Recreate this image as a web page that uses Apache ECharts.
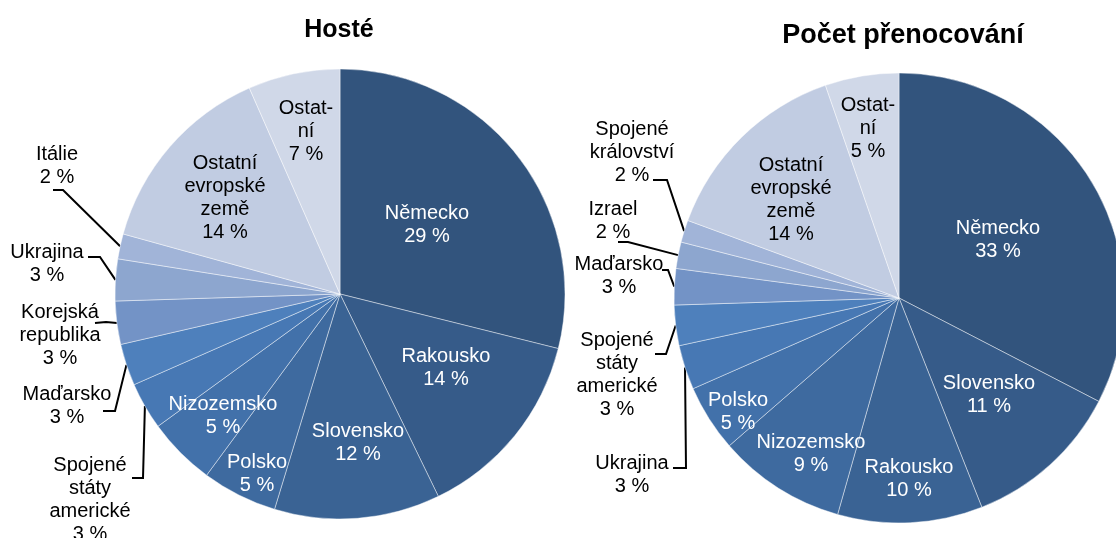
<!DOCTYPE html>
<html>
<head>
<meta charset="utf-8">
<script src="https://cdn.jsdelivr.net/npm/echarts@6/dist/echarts.min.js"></script>
<style>
html,body{margin:0;padding:0;background:#fff;}
#chart{width:1116px;height:538px;}
</style>
</head>
<body>
<div id="chart"></div>
<script>
// ---- DATA ----
const titles = ['Hosté', 'Počet přenocování'];

const guestCategories = ['Německo', 'Rakousko', 'Slovensko', 'Polsko', 'Nizozemsko',
  'Spojené\nstáty\namerické', 'Maďarsko', 'Korejská\nrepublika', 'Ukrajina', 'Itálie',
  'Ostatní\nevropské\nzemě', 'Ostat-\nní'];
const guestValues = [28.9, 13.9, 11.9, 5.4, 4.9, 3.4, 3.0, 3.1, 3.0, 1.8, 14.1, 6.6];

const nightCategories = ['Německo', 'Slovensko', 'Rakousko', 'Nizozemsko', 'Polsko',
  'Ukrajina', 'Spojené\nstáty\namerické', 'Maďarsko', 'Izrael', 'Spojené\nkrálovství',
  'Ostatní\nevropské\nzemě', 'Ostat-\nní'];
const nightValues = [32.6, 11.4, 10.4, 9.2, 4.8, 3.2, 2.9, 2.6, 1.9, 1.6, 14.1, 5.3];

// ---- STYLE / LAYOUT ----
const palette = ['#32547d', '#365b89', '#3a6394', '#3e6a9f', '#4271aa', '#4778b4',
  '#4e80bc', '#7393c6', '#8da6cf', '#a1b4d8', '#c1cce2', '#d0d8e8'];
const FONT = '"Liberation Sans", Arial, sans-serif';
const pies = [
  {cx: 340, cy: 294, r: 225},
  {cx: 899, cy: 298, r: 225}
];
// label block centres; leader lines: [elbow, end]
const labelPos = [
  [
    {x: 427, y: 224.5}, {x: 446, y: 368}, {x: 358, y: 442.5}, {x: 257, y: 474}, {x: 223, y: 415.5},
    {x: 90, y: 500, line: [[143, 478], [132, 478]]},
    {x: 67, y: 406, line: [[115, 411], [103, 411]]},
    {x: 60, y: 335.5, line: [[106, 322], [95, 323]]},
    {x: 47, y: 264, line: [[100, 257], [88, 257]]},
    {x: 57, y: 165.5, line: [[63, 190], [53, 190]]},
    {x: 225, y: 198}, {x: 306, y: 131}
  ],
  [
    {x: 998, y: 239.5}, {x: 989, y: 394.5}, {x: 909, y: 479}, {x: 811, y: 454}, {x: 738, y: 411.5},
    {x: 632, y: 475, line: [[686, 468], [673, 468]]},
    {x: 617, y: 374.5, line: [[666, 354], [655, 354]]},
    {x: 619, y: 275.5, line: [[668, 270], [662, 270]]},
    {x: 613, y: 220.5, line: [[628, 242], [618, 242]]},
    {x: 632, y: 152, line: [[667, 180], [653, 180]]},
    {x: 791, y: 200}, {x: 868, y: 128}
  ]
];

function midAngles(vals) {
  const total = vals.reduce((a, b) => a + b, 0);
  let acc = 0;
  return vals.map(v => { const m = (acc + v / 2) / total * 2 * Math.PI; acc += v; return m; });
}
const mids = [midAngles(guestValues), midAngles(nightValues)];

function buildData(cats, vals, si) {
  return cats.map((c, i) => {
    const L = labelPos[si][i];
    const outside = !!L.line;
    return {
      name: c,
      value: vals[i],
      itemStyle: {color: palette[i]},
      label: {
        position: outside ? 'outside' : 'inside',
        color: (outside || i >= 10) ? '#000' : '#fff'
      },
      labelLine: {show: outside, lineStyle: {color: '#000', width: 2}}
    };
  });
}

const chart = echarts.init(document.getElementById('chart'), null, {renderer: 'canvas'});

function series(si, cats, vals) {
  const P = pies[si];
  return {
    type: 'pie',
    center: [P.cx, P.cy],
    radius: P.r,
    startAngle: 90,
    clockwise: true,
    avoidLabelOverlap: false,
    animation: false,
    itemStyle: {borderColor: 'rgba(255,255,255,0.55)', borderWidth: 0.8},
    emphasis: {disabled: true},
    label: {
      show: true,
      fontFamily: FONT,
      fontSize: 20,
      lineHeight: 23,
      align: 'center',
      formatter: p => p.name + '\n' + Math.round(p.percent) + ' %'
    },
    labelLine: {lineStyle: {color: '#000', width: 2}, smooth: false},
    labelLayout: function (p) {
      const L = labelPos[si][p.dataIndex];
      const o = {x: L.x, y: L.y, align: 'center', verticalAlign: 'middle'};
      if (L.line) {
        const a = mids[si][p.dataIndex];
        const anchor = [P.cx + P.r * Math.sin(a), P.cy - P.r * Math.cos(a)];
        o.labelLinePoints = [anchor, L.line[0], L.line[1]];
      }
      return o;
    },
    data: buildData(cats, vals, si)
  };
}

chart.setOption({
  backgroundColor: '#fff',
  animation: false,
  title: [
    {text: titles[0], left: 334, top: 13, textAlign: 'center',
      textStyle: {fontFamily: FONT, fontSize: 25, fontWeight: 'bold', color: '#000'}},
    {text: titles[1], left: 898, top: 17, textAlign: 'center',
      textStyle: {fontFamily: FONT, fontSize: 27, fontWeight: 'bold', color: '#000'}}
  ],
  series: [
    series(0, guestCategories, guestValues),
    series(1, nightCategories, nightValues)
  ]
});
</script>
</body>
</html>
